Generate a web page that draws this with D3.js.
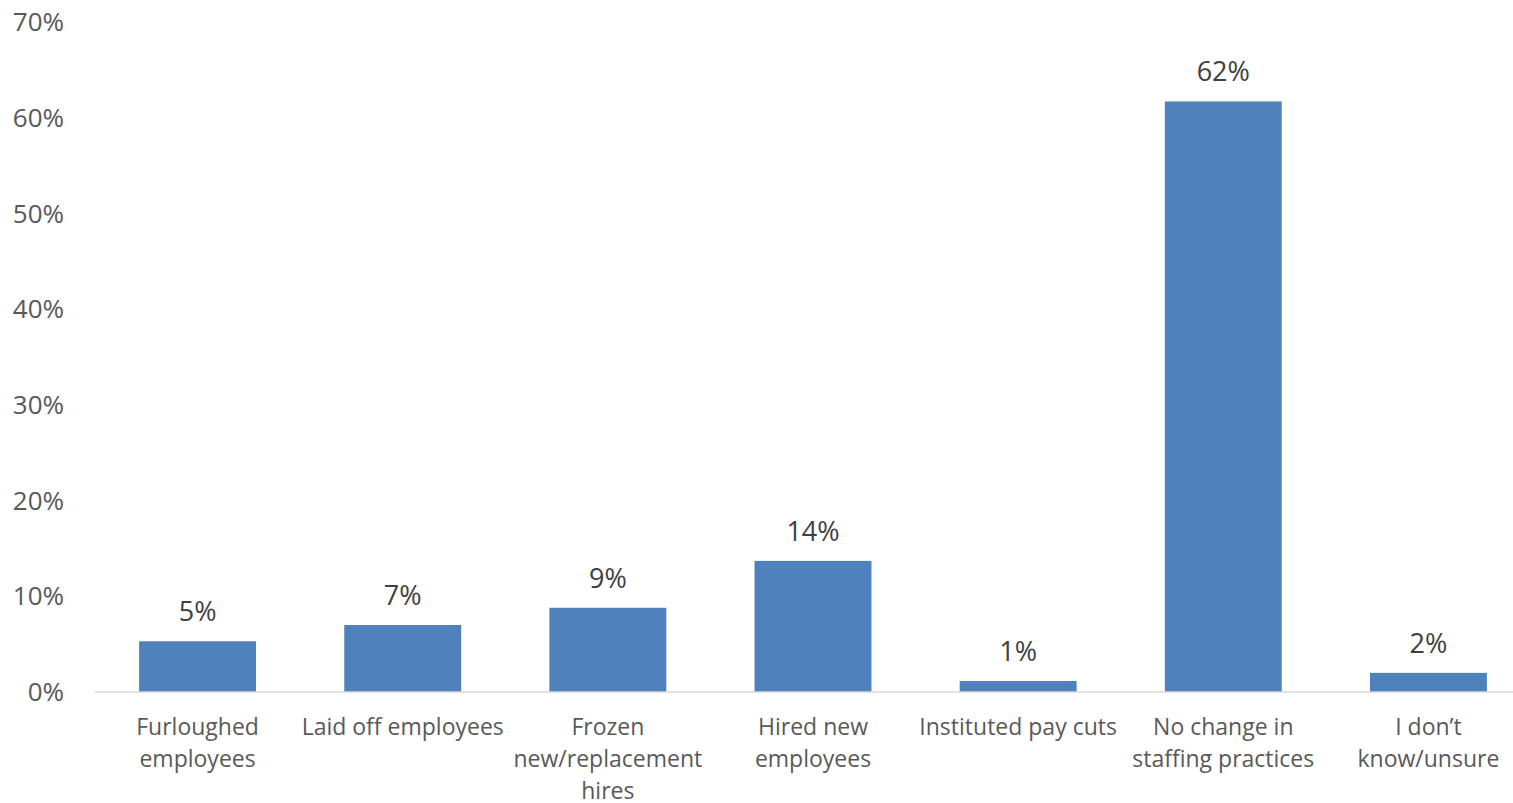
<!DOCTYPE html>
<html>
<head>
<meta charset="utf-8">
<title>Staffing changes</title>
<style>
  body { margin: 0; background: #fff; }
  svg { display: block; font-family: "Open Sans", sans-serif; }
  .tick-label { fill: #595959; font-size: 26px; }
  .cat-label { fill: #595959; font-size: 23px; }
  .data-label { fill: #404040; font-size: 27px; }
</style>
</head>
<body>
<div id="chart"></div>
<script src="https://cdn.jsdelivr.net/npm/d3@7"></script>
<script>
var categories = [
  ["Furloughed", "employees"],
  ["Laid off employees"],
  ["Frozen", "new/replacement", "hires"],
  ["Hired new", "employees"],
  ["Instituted pay cuts"],
  ["No change in", "staffing practices"],
  ["I don\u2019t", "know/unsure"]
];
var values = [0.053, 0.070, 0.088, 0.137, 0.0115, 0.617, 0.020];
var yTicks = [0, 0.1, 0.2, 0.3, 0.4, 0.5, 0.6, 0.7];

var width = 1513, height = 803;

var svg = d3.select("#chart").append("svg")
  .attr("width", width)
  .attr("height", height);

var x = d3.scaleBand()
  .domain(d3.range(categories.length))
  .range([95, 1531])
  .paddingInner(0.43)
  .paddingOuter(0.215);

var y = d3.scaleLinear()
  .domain([0, 0.7])
  .range([692, 22]);

var pct = d3.format(".0%");

// y tick labels (no gridlines in the original)
svg.append("g").selectAll("text")
  .data(yTicks)
  .enter().append("text")
  .attr("class", "tick-label")
  .attr("x", 64)
  .attr("y", d => y(d))
  .attr("dy", "0.35em")
  .attr("text-anchor", "end")
  .text(d => pct(d));

// bars
svg.append("g").selectAll("rect")
  .data(values)
  .enter().append("rect")
  .attr("x", (d, i) => x(i))
  .attr("y", d => y(d))
  .attr("width", x.bandwidth())
  .attr("height", d => y(0) - y(d))
  .attr("fill", "#4f81bd");

// baseline
svg.append("line")
  .attr("x1", 95).attr("x2", width)
  .attr("y1", y(0)).attr("y2", y(0))
  .attr("stroke", "#d9d9d9")
  .attr("stroke-width", 1.5);

// data labels
svg.append("g").selectAll("text")
  .data(values)
  .enter().append("text")
  .attr("class", "data-label")
  .attr("x", (d, i) => x(i) + x.bandwidth() / 2)
  .attr("y", d => y(d) - 20)
  .attr("text-anchor", "middle")
  .text(d => pct(d));

// category labels
var cat = svg.append("g").selectAll("text")
  .data(categories)
  .enter().append("text")
  .attr("class", "cat-label")
  .attr("text-anchor", "middle")
  .attr("x", (d, i) => x(i) + x.bandwidth() / 2)
  .attr("y", 735);

cat.selectAll("tspan")
  .data(d => d)
  .enter().append("tspan")
  .attr("x", function() { return this.parentNode.getAttribute("x"); })
  .attr("dy", (d, i) => i === 0 ? 0 : 32)
  .text(d => d);
</script>
</body>
</html>
